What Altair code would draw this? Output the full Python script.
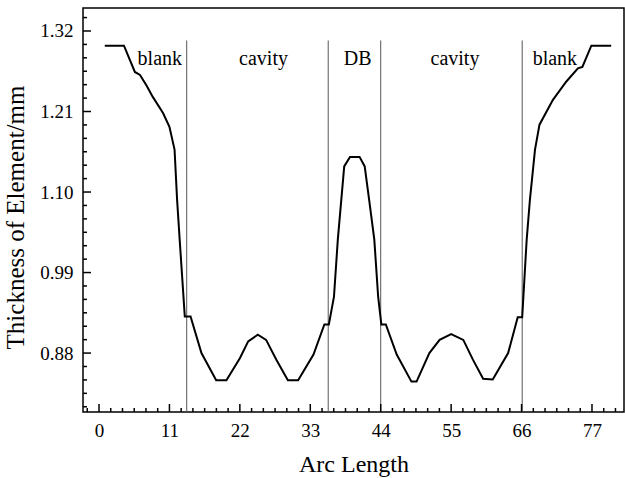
import altair as alt
import pandas as pd

# ---- data ----
arc_x = [0.9, 3.9, 5.6, 6.4, 7.4, 8.4, 10.0, 11.0, 11.8, 12.2, 12.6, 13.4, 14.3, 16.0,
         18.3, 19.9, 22.0, 23.3, 24.8, 26.1, 27.7, 29.5, 31.1, 33.5, 35.2, 35.9, 36.7,
         37.3, 38.3, 39.2, 40.7, 41.5, 42.2, 43.0, 43.6, 44.1, 44.8, 46.5, 48.8, 49.6,
         51.6, 53.2, 55.0, 56.9, 58.4, 60.0, 61.5, 63.9, 65.4, 66.1, 66.8, 67.3, 68.1,
         68.8, 70.9, 73.0, 74.8, 75.5, 76.9, 80.0]
thickness = [1.300, 1.300, 1.264, 1.260, 1.246, 1.230, 1.208, 1.189, 1.158, 1.089, 1.035,
             0.930, 0.930, 0.880, 0.843, 0.843, 0.873, 0.896, 0.905, 0.898, 0.871, 0.843,
             0.843, 0.878, 0.919, 0.919, 0.957, 1.035, 1.135, 1.148, 1.148, 1.135, 1.089,
             1.035, 0.957, 0.919, 0.919, 0.878, 0.841, 0.841, 0.880, 0.898, 0.906, 0.898,
             0.871, 0.845, 0.844, 0.880, 0.929, 0.929, 1.035, 1.089, 1.158, 1.192, 1.226,
             1.251, 1.269, 1.271, 1.300, 1.300]

divider_x = [13.7, 35.8, 44.0, 66.1]
divider_top = 1.307

region_labels = ["blank", "cavity", "DB", "cavity", "blank"]
region_x = [9.5, 25.7, 40.4, 55.6, 71.2]
region_y = 1.274

x_ticks = [0, 11, 22, 33, 44, 55, 66, 77]
y_ticks = [0.88, 0.99, 1.10, 1.21, 1.32]

x_dom = [-2.5, 82.0]
y_dom = [0.7995, 1.3514]

W, H = 541, 404
FONT = "Liberation Serif"

# minor tick positions (5 between each pair of majors)
x_minor = [x_ticks[0] + k * 11 / 6 for k in range(-1, 46) if k % 6 != 0]
x_minor = [v for v in x_minor if x_dom[0] < v < x_dom[1]]
y_minor = [round(0.88 + k * 0.11 / 6, 5) for k in range(-4, 26) if k % 6 != 0]
y_minor = [v for v in y_minor if y_dom[0] < v < y_dom[1]]

curve = pd.DataFrame({"x": arc_x, "y": thickness})
dividers = pd.DataFrame({"x": divider_x, "top": [divider_top] * len(divider_x),
                         "bot": [y_dom[0]] * len(divider_x)})
labels = pd.DataFrame({"x": region_x, "y": [region_y] * len(region_x), "t": region_labels})

xs = alt.Scale(domain=x_dom, nice=False, zero=False)
ys = alt.Scale(domain=y_dom, nice=False, zero=False)

x_axis = alt.Axis(values=x_ticks, title="Arc Length", ticks=False, domain=False, grid=False,
                  labelFont=FONT, labelFontSize=19, labelColor="black", labelPadding=9,
                  titleFont=FONT, titleFontSize=24, titleFontWeight="normal",
                  titleColor="black", titlePadding=12)
y_axis = alt.Axis(values=y_ticks, format=".2f", title="Thickness of Element/mm",
                  ticks=False, domain=False, grid=False,
                  labelFont=FONT, labelFontSize=19, labelColor="black", labelPadding=10,
                  titleFont=FONT, titleFontSize=25, titleFontWeight="normal",
                  titleColor="black", titlePadding=11, titleY=209)

line = alt.Chart(curve).mark_line(color="black", strokeWidth=2).encode(
    x=alt.X("x:Q", scale=xs, axis=x_axis),
    y=alt.Y("y:Q", scale=ys, axis=y_axis),
    order="x:Q",
)

div = alt.Chart(dividers).mark_rule(color="#555555", strokeWidth=1).encode(
    x=alt.X("x:Q", scale=xs), y=alt.Y("top:Q", scale=ys), y2="bot:Q"
)

txt = alt.Chart(labels).mark_text(font=FONT, fontSize=20, color="black",
                                  align="center", baseline="alphabetic").encode(
    x=alt.X("x:Q", scale=xs), y=alt.Y("y:Q", scale=ys), text="t:N"
)

xmaj = alt.Chart(pd.DataFrame({"v": x_ticks})).mark_rule(color="black", strokeWidth=1.5).encode(
    x=alt.X("v:Q", scale=xs), y=alt.value(H), y2=alt.value(H - 8))
xmin = alt.Chart(pd.DataFrame({"v": x_minor})).mark_rule(color="black", strokeWidth=1.5).encode(
    x=alt.X("v:Q", scale=xs), y=alt.value(H), y2=alt.value(H - 4))
ymaj = alt.Chart(pd.DataFrame({"v": y_ticks})).mark_rule(color="black", strokeWidth=1.5).encode(
    y=alt.Y("v:Q", scale=ys), x=alt.value(0), x2=alt.value(8))
ymin = alt.Chart(pd.DataFrame({"v": y_minor})).mark_rule(color="black", strokeWidth=1.5).encode(
    y=alt.Y("v:Q", scale=ys), x=alt.value(0), x2=alt.value(4))

chart = alt.layer(div, line, txt, xmaj, xmin, ymaj, ymin).properties(
    width=W, height=H,
    autosize=alt.AutoSizeParams(type="none"),
    padding={"left": 83, "top": 8, "right": 1, "bottom": 66},
    background="white",
).configure_view(stroke="black", strokeWidth=1.5)

chart.save("out.html", embed_options={"renderer": "svg", "actions": False})
